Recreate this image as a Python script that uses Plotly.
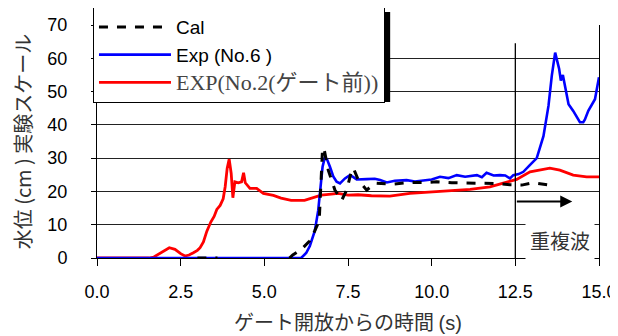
import plotly.graph_objects as go

# ---- data ----
red_x = [0, 1.55, 1.7, 1.85, 2.0, 2.16, 2.33, 2.5, 2.63, 2.75, 2.88, 3.0, 3.08, 3.18, 3.28, 3.4, 3.5, 3.58,
         3.68, 3.77, 3.83, 3.89, 3.95, 4.01, 4.06, 4.12, 4.22, 4.32, 4.38, 4.43, 4.57, 4.77, 4.97, 5.27, 5.5,
         5.8, 6.2, 6.5, 6.7, 7.0, 7.2, 7.5, 7.8, 8.2, 8.75, 9.35, 9.95, 10.5, 11.15, 11.74, 12.14, 12.54,
         12.94, 13.2, 13.53, 13.83, 14.23, 14.63, 15.0]
red_y = [0, 0, 0.3, 1.2, 2.2, 3.1, 2.6, 1.3, 0.6, 0.9, 1.6, 2.3, 3.1, 4.8, 8.0, 10.8, 12.5, 14.6,
         15.8, 17.8, 21.4, 27.0, 29.7, 25.4, 18.1, 22.9, 22.6, 22.9, 25.6, 22.6, 20.9, 20.9, 19.4, 18.8, 18.0,
         17.3, 17.3, 18.2, 18.9, 19.2, 19.4, 18.9, 19.0, 18.7, 18.6, 19.4, 19.8, 20.2, 20.6, 21.4, 22.4, 23.6,
         25.9, 26.3, 27.0, 26.4, 24.9, 24.4, 24.4]

blue_x = [0, 6.1, 6.25, 6.36, 6.51, 6.61, 6.68, 6.74, 6.81, 6.88, 6.96, 7.06, 7.16, 7.26, 7.41, 7.56, 7.66,
          7.76, 8.06, 8.3, 8.46, 8.66, 8.9, 9.25, 9.5, 9.75, 10.0, 10.25, 10.5, 10.75, 11.0, 11.35, 11.5,
          11.64, 11.85, 12.04, 12.2, 12.34, 12.44, 12.6, 12.74, 12.94, 13.14, 13.34, 13.49, 13.59, 13.69,
          13.81, 13.86, 13.92, 13.99, 14.09, 14.23, 14.33, 14.43, 14.53, 14.58, 14.68, 14.88, 15.0]
blue_y = [0, 0, 1.5, 3.6, 8.2, 14.3, 21.4, 27.4, 30.3, 29.5, 27.4, 24.5, 22.9, 22.4, 23.9, 24.9, 24.3,
          23.6, 23.7, 23.8, 23.4, 22.7, 23.2, 23.4, 23.0, 23.4, 23.6, 24.4, 24.0, 24.9, 24.4, 24.9, 24.3,
          25.6, 24.8, 24.9, 24.8, 23.9, 24.9, 25.2, 25.9, 28.0, 30.0, 36.6, 45.7, 54.8, 61.7,
          56.8, 53.3, 55.0, 51.3, 46.2, 44.2, 42.5, 40.8, 40.8, 41.6, 44.2, 47.7, 54.3]

cal_x = [3.0, 3.6, None, 5.75, 5.85, 6.1, 6.36, 6.5, 6.64, 6.68, 6.71, 6.74, 6.78, 6.91, 7.11, 7.31, 7.46,
         7.61, 7.66, 7.81, 8.06, 8.3, 8.85, 9.35, 9.85, 10.15, 10.6, 11.1, 11.44, 11.9, 12.34, 12.69, 13.04,
         13.53, 13.6]
cal_y = [0, 0, None, 0, 0.9, 2.5, 5.2, 8.0, 11.2, 20.0, 30.0, 33.0, 33.0, 26.4, 20.4, 17.3, 20.4,
         26.4, 27.0, 23.4, 20.4, 22.5, 22.2, 22.7, 22.7, 22.9, 22.6, 22.6, 22.4, 22.4, 22.0, 21.9, 22.6,
         21.9, 20.5]

x_ticks = [0, 2.5, 5.0, 7.5, 10.0, 12.5, 15.0]
y_ticks = [0, 10, 20, 30, 40, 50, 60, 70]

names = ["Cal", "Exp (No.6 )",
         "<span style=\"font-family:Liberation Serif,Noto Sans CJK JP;color:#444;font-size:22px\">EXP(No.2(ゲート前))</span>"]

sans = "Liberation Sans, Arial, sans-serif"
jp = "Noto Sans CJK JP, sans-serif"

fig = go.Figure()
fig.add_trace(go.Scatter(x=red_x, y=red_y, mode="lines", name=names[2], legendrank=3,
                         line=dict(color="#FF0000", width=2.8)))
fig.add_trace(go.Scatter(x=blue_x, y=blue_y, mode="lines", name=names[1], legendrank=2,
                         line=dict(color="#0000FF", width=2.6)))
fig.add_trace(go.Scatter(x=cal_x, y=cal_y, mode="lines", name=names[0], legendrank=1,
                         line=dict(color="black", width=3, dash="dash"), connectgaps=False))

# vertical marker at 12.5 s
fig.add_shape(type="line", xref="x", yref="y", x0=12.5, x1=12.5, y0=0, y1=64.5,
              line=dict(color="black", width=1.3))
# arrow
fig.add_annotation(x=14.2, y=17, ax=12.5, ay=17, xref="x", yref="y", axref="x", ayref="y",
                   text="", showarrow=True, arrowhead=2, arrowsize=1.2, arrowwidth=2, arrowcolor="black")
fig.add_annotation(x=13.83, y=5.2, xref="x", yref="y", text="重複波", showarrow=False,
                   font=dict(family=jp, size=20, color="#333"), bgcolor="white", borderpad=4)

# legend shadow (legend box ~ px 93..385 x 7..97, shadow offset 5px)
fig.add_shape(type="rect", xref="paper", yref="paper", x0=0.002, x1=0.584, y0=0.67, y1=1.056,
              fillcolor="black", line=dict(width=0), layer="above")

# page body has an 8px margin: figure is 610x328 so that it fills the 618x336 window
fig.update_layout(
    width=610, height=328,
    margin=dict(l=89, r=19, t=17, b=78, autoexpand=False),
    paper_bgcolor="white", plot_bgcolor="white",
    showlegend=True,
    legend=dict(x=-0.008, y=1.077, xanchor="left", yanchor="top", bgcolor="white",
                bordercolor="black", borderwidth=1, font=dict(family=sans, size=19, color="black"),
                tracegroupgap=0, itemwidth=72),
    xaxis=dict(range=[0, 15], tickvals=x_ticks, tickformat=".1f", showgrid=False, automargin=False,
               showline=True, linecolor="black", linewidth=1, ticks="outside", ticklen=7,
               tickcolor="black", tickfont=dict(family=sans, size=18, color="black"),
               ticklabelstandoff=10, zeroline=False,
               title=dict(text="ゲート開放からの時間 <span style=\"font-family:Liberation Sans\">(s)</span>",
                          font=dict(family=jp, size=20, color="#333"), standoff=17)),
    yaxis=dict(range=[0, 70], tickvals=y_ticks, showgrid=True, gridcolor="#222", gridwidth=1,
               automargin=False,
               showline=True, linecolor="black", linewidth=1, mirror=True, ticks="outside", ticklen=5,
               tickcolor="black", tickfont=dict(family=sans, size=18, color="black"),
               ticklabelstandoff=20, zeroline=False,
               title=dict(text="水位 (cm ) 実験スケール", font=dict(family=jp, size=20, color="#333"),
                          standoff=10)),
)

fig.write_html("out.html")
